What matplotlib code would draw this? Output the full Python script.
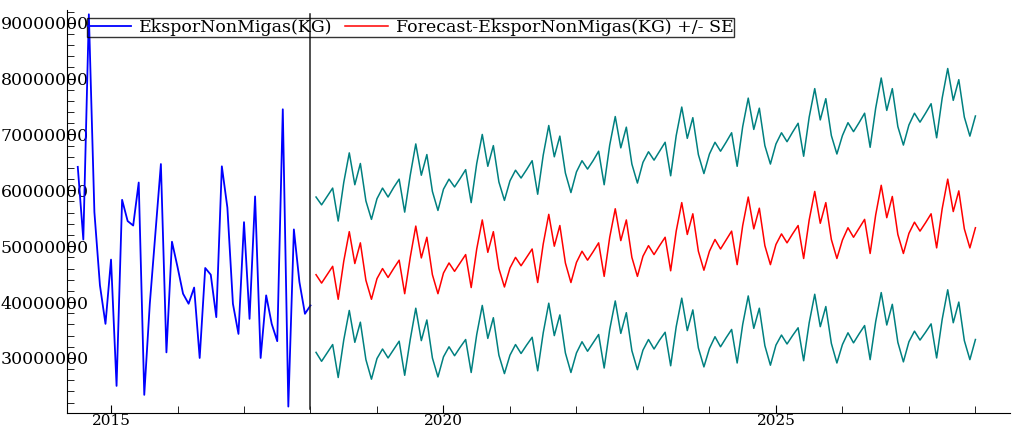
import numpy as np
import matplotlib
matplotlib.use("Agg")
import matplotlib.pyplot as plt
from matplotlib.ticker import MultipleLocator, FuncFormatter

# actual series, monthly from 2014-07 to 2018-01 (millions of KG)
ekspor = [64.2, 51.2, 91.5, 56.1, 43.0, 36.1, 47.6, 25.0, 58.3, 54.5, 53.7,
          61.4, 23.4, 39.7, 52.2, 64.7, 31.0, 50.8, 46.3, 41.5, 39.7, 42.6,
          30.0, 46.1, 44.9, 37.3, 64.3, 56.9, 39.7, 34.3, 54.3, 37.0, 58.9,
          30.0, 41.2, 36.1, 33.0, 74.5, 21.3, 53.0, 43.6, 37.9, 39.4]

# forecast, monthly from 2018-02 to 2028-01 (millions of KG)
forecast = [44.9, 43.4, 44.9, 46.4, 40.5, 47.3, 52.6, 46.9, 50.6, 43.9, 40.5,
            44.2, 46.0, 44.4, 46.0, 47.5, 41.5, 48.0, 53.6, 47.9, 51.6, 44.9, 41.5,
            45.2, 47.0, 45.5, 47.0, 48.5, 42.6, 49.5, 54.7, 48.9, 52.6, 46.0, 42.7,
            46.1, 48.0, 46.5, 48.0, 49.5, 43.5, 50.4, 55.7, 50.0, 53.7, 47.0, 43.5,
            47.1, 49.1, 47.5, 49.0, 50.6, 44.6, 51.6, 56.7, 51.0, 54.7, 48.0, 44.6,
            48.2, 50.1, 48.5, 50.1, 51.6, 45.6, 52.7, 57.8, 52.1, 55.8, 49.1, 45.7,
            49.1, 51.2, 49.5, 51.1, 52.7, 46.7, 53.7, 58.8, 53.1, 56.8, 50.1, 46.7,
            50.3, 52.2, 50.6, 52.2, 53.7, 47.8, 54.7, 59.8, 54.1, 57.8, 51.2, 47.8,
            51.1, 53.3, 51.6, 53.2, 54.8, 48.7, 55.6, 60.9, 55.1, 58.9, 52.1, 48.7,
            52.3, 54.3, 52.7, 54.2, 55.8, 49.7, 56.7, 62.0, 56.2, 59.9, 53.1, 49.7,
            53.3]

# standard error of the forecast (millions of KG)
se = [13.9, 14.0, 14.0, 14.0, 14.0, 14.1, 14.1, 14.1, 14.2, 14.2, 14.3,
      14.3, 14.4, 14.4, 14.5, 14.5, 14.6, 14.7, 14.7, 14.8, 14.8, 14.9, 14.9,
      15.0, 15.0, 15.1, 15.1, 15.2, 15.2, 15.3, 15.3, 15.4, 15.4, 15.5, 15.5,
      15.6, 15.6, 15.7, 15.7, 15.8, 15.8, 15.9, 15.9, 16.0, 16.0, 16.1, 16.1,
      16.2, 16.2, 16.3, 16.3, 16.4, 16.4, 16.5, 16.5, 16.6, 16.6, 16.7, 16.7,
      16.8, 16.8, 16.9, 16.9, 17.0, 17.0, 17.1, 17.1, 17.2, 17.2, 17.3, 17.3,
      17.4, 17.4, 17.5, 17.5, 17.6, 17.6, 17.7, 17.7, 17.8, 17.9, 17.9, 18.0,
      18.0, 18.1, 18.1, 18.2, 18.3, 18.3, 18.4, 18.4, 18.5, 18.6, 18.6, 18.7,
      18.7, 18.8, 18.9, 18.9, 19.0, 19.0, 19.1, 19.2, 19.2, 19.3, 19.3, 19.4,
      19.4, 19.5, 19.5, 19.6, 19.7, 19.7, 19.8, 19.8, 19.9, 19.9, 20.0, 20.0,
      20.0]

label_actual = "EksporNonMigas(KG)"
label_fc = "Forecast-EksporNonMigas(KG) +/- SE"

ekspor = np.array(ekspor) * 1e6
forecast = np.array(forecast) * 1e6
se = np.array(se) * 1e6
t_hist = 2014.5 + np.arange(len(ekspor)) / 12
t_fc = t_hist[-1] + np.arange(1, len(forecast) + 1) / 12

plt.rcParams['font.family'] = 'DejaVu Serif'
fig = plt.figure(figsize=(10.13, 4.29), dpi=100)
ax = fig.add_axes([67/1013, 1-413/429, (1010-67)/1013, (413-10)/429])

ax.plot(t_hist, ekspor, color='#0000ff', lw=1.3, label=label_actual)
ax.plot(t_fc, forecast, color='#ff0000', lw=1.1, label=label_fc)
ax.plot(t_fc, forecast + se, color='#008080', lw=1.1)
ax.plot(t_fc, forecast - se, color='#008080', lw=1.1)
ax.axvline(t_hist[-1], ymin=0.01, ymax=0.99, color='#202020', lw=1.1)

ax.set_xlim(2014.338, 2028.52)
ax.set_ylim(20.15e6, 92.27e6)

ax.spines['top'].set_visible(False)
ax.spines['right'].set_visible(False)
ax.xaxis.set_major_locator(MultipleLocator(5))
ax.xaxis.set_minor_locator(MultipleLocator(1))
ax.yaxis.set_major_locator(MultipleLocator(10e6))
ax.yaxis.set_minor_locator(MultipleLocator(2e6))
ax.xaxis.set_major_formatter(FuncFormatter(lambda v, p: f"{v:.0f}"))
ax.yaxis.set_major_formatter(FuncFormatter(lambda v, p: f"{v:.0f}"))
ax.tick_params(axis='both', which='both', direction='in')
ax.tick_params(axis='both', which='major', length=6)
ax.tick_params(axis='both', which='minor', length=5)
ax.tick_params(axis='y', pad=-15.5, labelsize=12.5)
ax.tick_params(axis='x', pad=0.5, labelsize=11)

leg = ax.legend(loc='upper left', bbox_to_anchor=(0.021, 0.98), borderaxespad=0,
                ncol=2, fontsize=12.5, frameon=True, fancybox=False,
                handlelength=2.5, handletextpad=0.45, columnspacing=0.7,
                borderpad=0.05)
leg.get_frame().set_edgecolor('black')
leg.get_frame().set_facecolor('none')
leg.get_frame().set_linewidth(1.0)

fig.savefig("out.png", dpi=100)
